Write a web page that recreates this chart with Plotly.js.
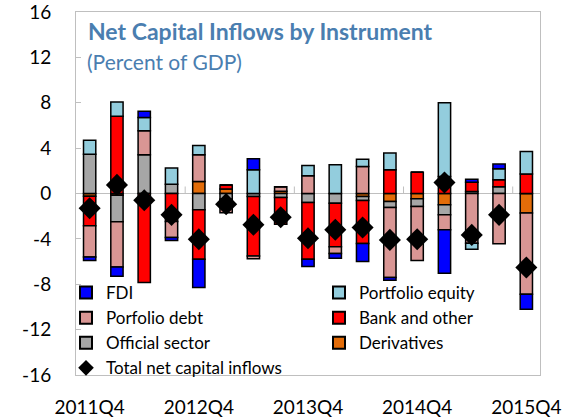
<!DOCTYPE html>
<html>
<head>
<meta charset="utf-8">
<script src="https://cdn.plot.ly/plotly-3.0.1.min.js"></script>
<style>
  html, body { margin: 0; padding: 0; background: #ffffff; }
  #chart { width: 565px; height: 419px; }
</style>
</head>
<body>
<div id="chart"></div>
<script>
// Quarters (categories)
const quarters = [
  "2011Q4", "2012Q1", "2012Q2", "2012Q3",
  "2012Q4", "2013Q1", "2013Q2", "2013Q3",
  "2013Q4", "2014Q1", "2014Q2", "2014Q3",
  "2014Q4", "2015Q1", "2015Q2", "2015Q3",
  "2015Q4"
];
const tickLabels = ["2011Q4", "2012Q4", "2013Q4", "2014Q4", "2015Q4"];
const yTickValues = [-16, -12, -8, -4, 0, 4, 8, 12, 16];

// Components, percent of GDP
const derivatives     = [-0.25, -0.15, 0, 0, 1.06, 0.40, 0, 0.20, 0, 0, -0.26, -0.70, -0.47, -1.00, 0, 0, -1.73];
const officialSector  = [3.47, -2.35, 3.41, 0.82, -1.44, -0.50, -0.26, -0.35, -0.79, -0.85, -0.35, -0.53, -0.68, -0.88, 0.18, 0.59, 0];
const bankAndOther    = [-2.60, 6.82, -7.85, -2.47, -4.35, 0.35, -5.24, -2.35, -5.00, -3.85, -3.80, 2.09, 1.88, 1.50, 0.82, 0.62, 1.73];
const portfolioDebt   = [-2.75, -3.97, 2.12, -1.41, 2.35, -1.20, -0.26, 0.40, 1.56, -0.59, 2.38, -6.18, -4.76, -1.32, -4.38, -4.44, -7.15];
const portfolioEquity = [1.23, 1.24, 1.17, 1.42, 0.83, 0, 2.09, 0, 0.91, 2.53, 0.65, 1.47, 0, 6.50, -0.53, 0.97, 1.97];
const fdi             = [-0.30, -0.82, 0.54, -0.27, -2.50, 0, 0.97, 0, -0.65, -0.41, -1.59, -0.24, 0, -3.83, 0.26, 0.41, -1.32];
const totalInflows    = [-1.30, 0.76, -0.60, -1.88, -4.03, -0.94, -2.76, -2.10, -3.94, -3.20, -3.00, -4.09, -4.03, 0.97, -3.65, -1.88, -6.53];

// Zero-line group separators (between Q3 and Q4 each year)
const groupSeparators = [3.5, 7.5, 11.5, 15.5];

const FONT = "Lato, 'Open Sans', sans-serif";
const axisGray = "#bfbfbf";
const titleBlue = "#4a7eb0";
const outline = { color: "#000000", width: 1.5 };

function barTrace(name, values, color, legend, rank) {
  return {
    type: "bar", name: name, x: quarters, y: values,
    marker: { color: color, line: outline },
    legend: legend, legendrank: rank,
    hoverinfo: "x+y+name"
  };
}

// Stacking order from the zero line outward
const traces = [
  barTrace("Derivatives", derivatives, "#e36c09", "legend2", 3),
  barTrace("Official sector", officialSector, "#a6a6a6", "legend", 3),
  barTrace("Bank and other", bankAndOther, "#ff0000", "legend2", 2),
  barTrace("Porfolio debt", portfolioDebt, "#d99694", "legend", 2),
  barTrace("Portfolio equity", portfolioEquity, "#93cddd", "legend2", 1),
  barTrace("FDI", fdi, "#0000ff", "legend", 1),
  {
    type: "scatter", mode: "markers", name: "Total net capital inflows",
    x: quarters, y: totalInflows,
    marker: { symbol: "diamond", size: 17, color: "#000000" },
    legend: "legend", legendrank: 4
  }
];

const legendCommon = {
  xanchor: "left", yanchor: "top",
  bgcolor: "rgba(0,0,0,0)", borderwidth: 0,
  font: { family: FONT, size: 17, color: "#000000" },
  itemsizing: "constant", traceorder: "normal", tracegroupgap: 0
};

const legendTop = 1 - (275 - 12) / 363;

const layout = {
  width: 565, height: 419,
  margin: { l: 76, r: 25, t: 12, b: 44, pad: 0 },
  paper_bgcolor: "#ffffff", plot_bgcolor: "#ffffff",
  barmode: "relative", bargap: 0.55,
  font: { family: FONT, size: 19, color: "#000000" },
  title: {
    text: "<b>Net Capital Inflows by Instrument</b>",
    font: { family: FONT, size: 23, color: titleBlue },
    xref: "container", x: 88 / 565, xanchor: "left",
    yref: "container", y: 1 - 32 / 419, yanchor: "middle"
  },
  annotations: [{
    text: "(Percent of GDP)", showarrow: false,
    xref: "paper", x: 0.02, xanchor: "left",
    yref: "paper", y: 1 - (61 - 12) / 363, yanchor: "middle",
    font: { family: FONT, size: 21, color: titleBlue }
  }],
  xaxis: {
    type: "category", range: [-0.5, 16.5],
    tickvals: tickLabels, ticktext: tickLabels,
    ticks: "", showgrid: false, zeroline: false,
    showline: true, mirror: true, linecolor: axisGray, linewidth: 1,
    tickfont: { family: FONT, size: 19, color: "#000000" },
    ticklabelstandoff: 15, ticklabeloverflow: "allow"
  },
  yaxis: {
    range: [-16, 16], tickmode: "array", tickvals: yTickValues,
    ticktext: yTickValues.map(String),
    ticks: "inside", ticklen: 5, tickcolor: axisGray, tickwidth: 1,
    showgrid: false, zeroline: true, zerolinecolor: axisGray, zerolinewidth: 1,
    showline: true, mirror: true, linecolor: axisGray, linewidth: 1,
    tickfont: { family: FONT, size: 19, color: "#000000" },
    ticklabelstandoff: 20, ticklabeloverflow: "allow"
  },
  shapes: groupSeparators.map(function (p) {
    return {
      type: "line", xref: "x", x0: p, x1: p,
      yref: "y", ysizemode: "pixel", yanchor: 0, y0: 0, y1: 7,
      line: { color: axisGray, width: 1 }, layer: "below"
    };
  }),
  legend: Object.assign({ x: (66 - 76) / 464, y: legendTop }, legendCommon),
  legend2: Object.assign({ x: (319 - 76) / 464, y: legendTop }, legendCommon),
  showlegend: true
};

Plotly.newPlot("chart", traces, layout, { displayModeBar: false, staticPlot: true });
</script>
</body>
</html>
